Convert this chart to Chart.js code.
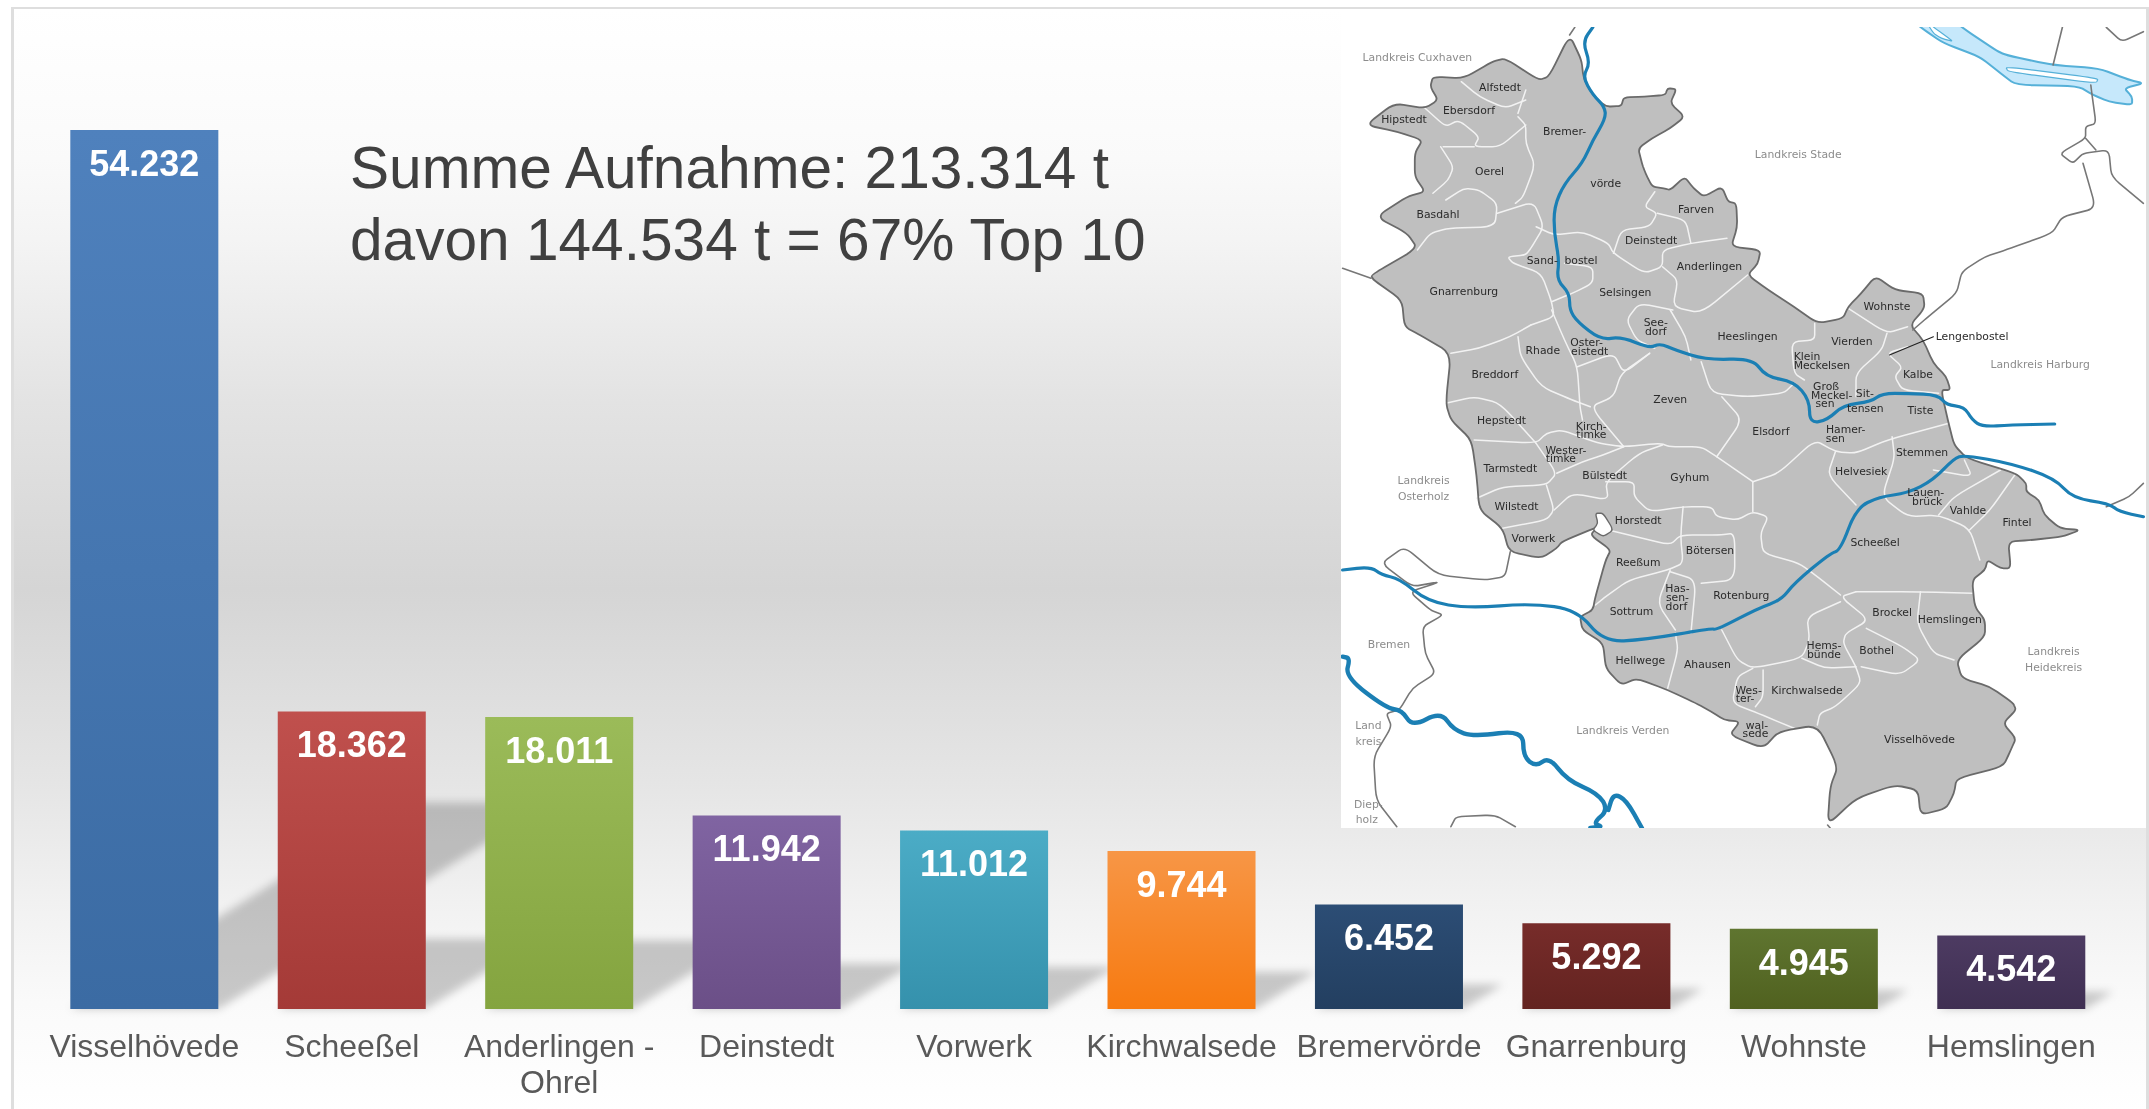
<!DOCTYPE html>
<html>
<head>
<meta charset="utf-8">
<style>
  html, body { margin: 0; padding: 0; background: #fff; width: 2149px; height: 1109px; overflow: hidden; }
  #frame {
    position: absolute; left: 11px; top: 7px; width: 2132px; height: 1102px;
    border: solid #dedede; border-width: 2px 3px 0 3px;
    background: linear-gradient(to bottom, #fff 0px, #fafafa 150px, #f4f4f4 230px, #e3e3e3 393px,
      #d5d5d5 580px, #e5e5e5 773px, #f1f1f1 893px, #fafafa 993px, #fff 1102px);
  }
  #myChart { position: absolute; left: 0; top: 0; }
  #map { position: absolute; left: 0; top: 0; filter: blur(0.45px); }
  #title {
    position: absolute; left: 350px; top: 132px; color: #404040;
    font: 58.6px/72px "Liberation Sans", Arial, sans-serif; white-space: nowrap;
  }
</style>
</head>
<body>
<div id="frame"></div>
<canvas id="myChart" width="2149" height="1109"></canvas>
<svg id="map" width="2149" height="1109" xmlns="http://www.w3.org/2000/svg"></svg>
<div id="title">Summe Aufnahme: 213.314 t<br>davon 144.534 t = 67% Top 10</div>

<script src="https://cdn.jsdelivr.net/npm/chart.js@4"></script>
<script>
const categories = ["Visselhövede", "Scheeßel", ["Anderlingen -", "Ohrel"], "Deinstedt", "Vorwerk",
  "Kirchwalsede", "Bremervörde", "Gnarrenburg", "Wohnste", "Hemslingen"];
const values = [54232, 18362, 18011, 11942, 11012, 9744, 6452, 5292, 4945, 4542];
const topColors = ["#4f81bd", "#c0504d", "#9bbb59", "#8064a2", "#4bacc6", "#f79646", "#2c4d75", "#772c2a", "#5f7530", "#4d3b62"];
const bottomColors = ["#3b6ba3", "#a43a37", "#84a43f", "#6b4f87", "#3591ac", "#f77a10", "#233f60", "#632320", "#50611f", "#3f2f52"];

// map, in crop coordinates
const toX = x => 1340 + x / 1.938;
const toY = y => y / 3;

const outline = [[445,105],[468,180],[472,235],[490,285],[515,320],[545,318],[550,292],[590,290],[630,285],[635,265],[652,267],[640,310],[668,350],[640,385],[605,415],[578,445],[585,490],[592,520],[605,560],[628,565],[640,570],[668,530],[685,565],[705,590],[740,560],[752,605],[768,610],[770,680],[758,740],[815,750],[810,790],[790,825],[830,870],[880,920],[925,970],[975,955],[985,920],[1010,880],[1038,828],[1075,870],[1130,880],[1133,925],[1105,975],[1130,1020],[1150,1090],[1175,1130],[1183,1170],[1165,1170],[1178,1260],[1190,1335],[1215,1375],[1310,1420],[1330,1450],[1330,1475],[1355,1500],[1365,1545],[1395,1585],[1435,1590],[1400,1610],[1340,1620],[1295,1625],[1300,1705],[1280,1705],[1255,1680],[1250,1710],[1225,1740],[1230,1820],[1250,1860],[1250,1910],[1195,1980],[1205,2035],[1260,2060],[1305,2110],[1310,2130],[1285,2170],[1310,2215],[1300,2250],[1285,2300],[1195,2335],[1190,2380],[1175,2425],[1125,2445],[1120,2370],[1075,2355],[1000,2395],[945,2475],[950,2360],[965,2300],[925,2175],[850,2195],[820,2245],[755,2205],[775,2165],[745,2160],[720,2135],[690,2110],[635,2070],[575,2035],[545,2055],[515,2005],[510,1930],[470,1890],[465,1850],[490,1830],[495,1790],[515,1680],[525,1650],[485,1605],[500,1580],[430,1625],[420,1645],[390,1675],[328,1655],[315,1585],[270,1530],[265,1430],[255,1320],[215,1260],[205,1210],[215,1060],[155,1005],[125,980],[120,900],[65,840],[60,825],[150,745],[130,700],[70,650],[130,590],[165,575],[145,530],[145,460],[160,420],[110,395],[50,375],[105,310],[165,325],[190,300],[175,260],[180,230],[240,235],[295,185],[320,175],[385,240],[405,230]];

const boundaries = [
  [[235,245],[270,290],[320,325],[360,300]],
  [[165,325],[205,380],[230,360],[270,410],[260,440],[310,440],[360,375]],
  [[345,350],[360,375],[360,430],[378,495],[355,590],[340,610]],
  [[360,270],[345,340]],
  [[195,440],[220,500],[210,540],[180,580]],
  [[260,440],[200,440]],
  [[205,600],[240,565],[270,570],[305,610],[300,680],[210,685],[175,700],[150,750]],
  [[305,640],[375,605],[395,680],[372,740],[360,765],[325,770],[335,790],[390,820],[410,905],[415,950],[370,975]],
  [[380,680],[415,705],[470,695],[520,730],[530,760],[590,820],[625,800],[625,750],[680,730],[750,715]],
  [[530,760],[545,690],[600,680],[615,640],[590,620],[610,575]],
  [[615,640],[670,660],[680,730]],
  [[625,800],[655,840],[645,920],[700,940],[790,825]],
  [[435,790],[490,800],[490,850],[450,880],[410,905]],
  [[645,930],[580,910],[555,960],[575,1020],[610,1045]],
  [[640,930],[670,1010],[680,1080]],
  [[370,975],[330,1010],[270,1045],[215,1060]],
  [[345,1010],[350,1070],[390,1160],[450,1200],[485,1220]],
  [[410,930],[435,1020],[460,1100],[465,1220],[470,1260]],
  [[460,1100],[530,1060],[550,1120],[600,1060]],
  [[600,1060],[545,1120],[530,1190],[485,1220],[550,1340]],
  [[700,1085],[720,1180],[790,1190],[860,1180],[880,1150]],
  [[920,970],[920,1020],[875,1025],[880,1120],[900,1140]],
  [[985,925],[1060,1000],[1100,980]],
  [[1060,1000],[1050,1050],[1000,1120],[1000,1190]],
  [[1100,1040],[1060,1060],[1090,1100],[1075,1130],[1090,1170],[1160,1180]],
  [[205,1210],[260,1190],[310,1210],[380,1330]],
  [[260,1320],[380,1330],[400,1300],[430,1290],[500,1330],[550,1340],[620,1330],[640,1340],[700,1340],[730,1370],[800,1445]],
  [[380,1330],[420,1420],[400,1455],[315,1460],[265,1495]],
  [[400,1455],[415,1530],[400,1560],[315,1585]],
  [[420,1420],[470,1385],[510,1365],[550,1340]],
  [[415,1530],[450,1480],[520,1500],[515,1445],[580,1360],[625,1335]],
  [[515,1445],[570,1445],[570,1490],[600,1535],[665,1520],[720,1520],[730,1550],[770,1560],[800,1535],[830,1550],[815,1600],[820,1660],[890,1690],[925,1730],[970,1785]],
  [[800,1445],[800,1535]],
  [[800,1445],[850,1420],[920,1320],[960,1355],[1000,1360],[1060,1320],[1180,1270]],
  [[730,1370],[780,1260],[740,1190]],
  [[960,1355],[945,1425],[1000,1515]],
  [[1070,1310],[1075,1375],[1050,1490],[1100,1550],[1160,1545],[1220,1585],[1240,1680]],
  [[1210,1380],[1225,1430],[1150,1410]],
  [[1280,1410],[1190,1490],[1160,1545]],
  [[1310,1420],[1260,1530],[1220,1590]],
  [[520,1590],[560,1605],[640,1635],[660,1605],[735,1605],[765,1600],[765,1740],[700,1750]],
  [[665,1520],[660,1610],[665,1690],[635,1710],[560,1740],[515,1790],[495,1815]],
  [[640,1710],[615,1810],[650,1890]],
  [[640,1715],[690,1740],[680,1900]],
  [[1000,1775],[970,1790],[1025,1860],[980,1900],[975,1930],[1000,2000],[1010,2050],[960,2120],[930,2140],[925,2175]],
  [[1000,1775],[1125,1775],[1225,1780]],
  [[1125,1775],[1118,1870],[1150,1960],[1190,1980]],
  [[1020,1885],[1090,1940],[1125,1980],[1085,2025],[1010,2000]],
  [[970,1805],[905,1850],[910,1920],[895,1975],[800,2005],[770,1980],[740,1890]],
  [[895,1975],[940,2005],[1000,2000]],
  [[650,1900],[655,1950],[635,2065]],
  [[800,2005],[770,2030],[760,2110],[810,2140],[880,2185]],
  [[820,2010],[820,2090],[805,2120]]
];

const borders = [
  [[445,105],[455,82]],
  [[1400,82],[1382,195]],
  [[1485,82],[1515,125],[1557,95]],
  [[1455,255],[1458,290],[1465,370],[1445,380],[1445,415],[1395,460],[1420,490],[1440,460],[1490,450],[1495,530],[1557,610]],
  [[1445,415],[1465,450]],
  [[1440,490],[1465,625],[1400,650],[1380,700],[1290,750],[1250,770],[1205,815],[1195,880],[1140,950],[1110,990]],
  [[5,805],[60,835]],
  [[330,1655],[320,1730],[280,1740],[190,1725],[125,1640],[80,1690],[140,1760],[195,1745],[135,1775],[175,1830],[200,1845],[160,1880],[165,1960],[185,2020],[140,2065],[115,2130],[90,2140],[100,2180],[65,2270],[70,2400],[110,2480]],
  [[215,2480],[225,2450],[300,2445],[340,2480]],
  [[945,2475],[950,2484]],
  [[1485,1520],[1530,1490],[1557,1450]]
];

const rivers = [
  [[490,82],[470,125],[485,190],[470,230],[490,285],[513,320],[515,355],[490,420],[470,490],[435,550],[415,620],[415,700],[425,780],[420,840],[445,880],[445,930],[460,965],[505,1020],[545,1010],[600,1045],[620,1030],[650,1050],[710,1080],[800,1075],[825,1130],[880,1145],[910,1200],[910,1270],[945,1260],[975,1215],[1030,1205],[1050,1180],[1100,1180],[1160,1185],[1175,1215],[1210,1220],[1225,1260],[1245,1280],[1300,1275],[1385,1272]],
  [[5,1710],[60,1700],[80,1725],[115,1735],[170,1805],[250,1825],[370,1810],[460,1830],[510,1925],[590,1920],[720,1885],[730,1890],[810,1825],[855,1800],[880,1750],[950,1660],[970,1650],[1000,1525],[1045,1490],[1100,1480],[1150,1440],[1190,1375],[1210,1365],[1300,1390],[1385,1435],[1420,1495],[1490,1510],[1510,1535],[1557,1550]],
  [[5,1970],[20,1975],[10,2030],[90,2125],[120,2130],[140,2180],[195,2135],[220,2190],[260,2210],[355,2190],[355,2270],[380,2300],[405,2270],[440,2340],[500,2380],[520,2430],[490,2470],[510,2480],[485,2484]],
  [[520,2430],[530,2380],[555,2400],[585,2484]]
];

// the Elbe runs past the top of the image and is cut off there
const elbe = [[1085,30],[1165,30],[1205,82],[1270,150],[1290,165],[1380,195],[1470,205],[1530,240],[1557,250],[1520,265],[1535,290],[1535,315],[1490,305],[1460,285],[1430,258],[1310,255],[1280,220],[1240,170],[1170,130],[1125,82]];
const elbeIslands = [[[1290,200],[1470,235],[1465,250],[1295,215]], [[1130,50],[1150,82],[1190,125],[1165,115],[1150,100]]];
const lake = [[495,1540],[510,1540],[530,1590],[510,1610],[490,1590],[500,1570]];

const mapLabels = [["Alfstedt",310,263],["Ebersdorf",250,330],["Hipstedt",124,358],["Bremer-",435,395],["Oerel",290,514],["vörde",515,550],["Basdahl",190,642],["Farven",690,627],["Deinstedt",603,720],["Sand-",392,782],["bostel",467,782],["Anderlingen",716,800],["Gnarrenburg",240,875],["Selsingen",553,877],["Wohnste",1060,918],["See-",612,968],["dorf",612,995],["Heeslingen",790,1010],["Vierden",992,1023],["Oster-",478,1028],["eistedt",484,1055],["Rhade",393,1052],["Klein",905,1070],["Meckelsen",934,1097],["Kalbe",1120,1122],["Breddorf",300,1122],["Groß",942,1160],["Meckel-",953,1185],["sen",940,1210],["Sit-",1017,1180],["tensen",1018,1225],["Tiste",1125,1230],["Zeven",640,1197],["Lengenbostel",1225,1010],["Hepstedt",313,1262],["Kirch-",487,1278],["timke",487,1302],["Elsdorf",835,1295],["Hamer-",980,1288],["sen",960,1315],["Wester-",438,1350],["timke",428,1375],["Stemmen",1128,1358],["Tarmstedt",330,1405],["Bülstedt",513,1425],["Gyhum",678,1431],["Helvesiek",1010,1415],["Lauen-",1135,1478],["brück",1138,1503],["Vahlde",1217,1531],["Wilstedt",342,1520],["Horstedt",578,1561],["Fintel",1312,1568],["Vorwerk",375,1615],["Scheeßel",1037,1627],["Bötersen",717,1651],["Reeßum",578,1688],["Has-",654,1766],["sen-",654,1792],["dorf",652,1818],["Rotenburg",778,1786],["Sottrum",565,1834],["Brockel",1070,1836],["Hemslingen",1182,1858],["Hems-",938,1936],["bünde",938,1962],["Bothel",1040,1951],["Hellwege",582,1980],["Ahausen",712,1993],["Wes-",792,2070],["ter-",785,2096],["Kirchwalsede",905,2070],["wal-",808,2175],["sede",805,2200],["Visselhövede",1123,2217]];
const regionLabels = [["Landkreis Cuxhaven",150,173],["Landkreis Stade",888,462],["Landkreis Harburg",1357,1094],["Landkreis",162,1442],["Osterholz",162,1490],["Landkreis",1383,1955],["Heidekreis",1383,2003],["Bremen",95,1934],["Land",55,2177],["kreis",55,2224],["Landkreis Verden",548,2192],["Diep-",55,2412],["holz",52,2458]];

const xy = p => toX(p[0]).toFixed(1) + " " + toY(p[1]).toFixed(1);
const toward = (a, b, t) => [a[0] + (b[0] - a[0]) * t, a[1] + (b[1] - a[1]) * t];

// rounds the traced corners, t is how far along each segment the curve starts
function smooth(line, closed, t) {
  const n = line.length;
  let d = "";
  line.forEach((p, i) => {
    const isEnd = !closed && (i === 0 || i === n - 1);
    if (isEnd) { d += (i === 0 ? "M" : "L") + xy(p); return; }
    const a = toward(p, line[(i - 1 + n) % n], t);
    const b = toward(p, line[(i + 1) % n], t);
    d += (d === "" ? "M" : "L") + xy(a) + "Q" + xy(p) + " " + xy(b);
  });
  return d + (closed ? "Z" : "");
}

function drawMap() {
  const path = (d, attrs) => '<path d="' + d + '" stroke-linejoin="round" stroke-linecap="round" ' + attrs + '/>';
  let s = '<defs><clipPath id="mapClip"><rect x="1341" y="27" width="805" height="801"/></clipPath></defs>';
  s += '<rect x="1341" y="9" width="805" height="819" fill="#fff"/>';
  s += '<g clip-path="url(#mapClip)">';
  s += path(smooth(elbe, true, 0.3), 'fill="#c6e8fb" stroke="#55b0d8" stroke-width="2"');
  elbeIslands.forEach(l => { s += path(smooth(l, true, 0.3), 'fill="#fff" stroke="#55b0d8" stroke-width="1.2"'); });
  s += path(smooth(outline, true, 0.3), 'fill="#bfbfbf"');
  boundaries.forEach(l => { s += path(smooth(l, false, 0.3), 'fill="none" stroke="#f2f2f2" stroke-width="1.5"'); });
  s += path(smooth(outline, true, 0.3), 'fill="none" stroke="#6a6a6a" stroke-width="1.8"');
  s += path(smooth(lake, true, 0.3), 'fill="#fff" stroke="#6a6a6a" stroke-width="1.4"');
  borders.forEach(l => { s += path(smooth(l, false, 0.25), 'fill="none" stroke="#777" stroke-width="1.6"'); });
  rivers.forEach((l, i) => { s += path(smooth(l, false, 0.5), 'fill="none" stroke="#1b7fb4" stroke-width="' + (i < 2 ? 3.2 : 4.4) + '"'); });
  s += path(smooth([[1065,1065],[1150,1010]], false, 0), 'fill="none" stroke="#222" stroke-width="1.1"');
  s += '</g>';
  const label = (t, color) => '<text x="' + toX(t[1]).toFixed(1) + '" y="' + toY(t[2]).toFixed(1) +
    '" fill="' + color + '" font-family="DejaVu Sans" font-size="10.8" text-anchor="middle" dominant-baseline="central">' + t[0] + '</text>';
  mapLabels.forEach(t => { s += label(t, "#2a2a2a"); });
  regionLabels.forEach(t => { s += label(t, "#8c8c8c"); });
  document.getElementById("map").innerHTML = s;
}
drawMap();

// slanted soft shadow behind each bar, taken from the bar's own position
const barShadows = {
  id: "barShadows",
  beforeDatasetsDraw(chart) {
    const c = chart.ctx;
    c.save();
    c.filter = "blur(4px)";
    c.fillStyle = "rgba(0,0,0,0.2)";
    chart.getDatasetMeta(0).data.forEach(bar => {
      const left = bar.x - bar.width / 2;
      const right = bar.x + bar.width / 2;
      const h = (bar.base - bar.y) * 0.235;
      const dx = h / 0.62;
      c.beginPath();
      c.moveTo(left, bar.base);
      c.lineTo(right, bar.base);
      c.lineTo(right + dx, bar.base - h);
      c.lineTo(left + dx, bar.base - h);
      c.closePath();
      c.fill();
    });
    c.restore();
  },
};

// value inside the top of each bar
const barValues = {
  id: "barValues",
  afterDatasetsDraw(chart) {
    const c = chart.ctx;
    c.save();
    c.fillStyle = "#fff";
    c.font = 'bold 36px "Liberation Sans", Arial, sans-serif';
    c.textAlign = "center";
    c.textBaseline = "middle";
    chart.getDatasetMeta(0).data.forEach((bar, i) => {
      c.fillText(values[i].toLocaleString("de-DE"), bar.x, bar.y + 36);
    });
    c.restore();
  },
};

const ctx = document.getElementById("myChart");
new Chart(ctx, {
  type: "bar",
  data: {
    labels: categories,
    datasets: [{
      data: values,
      categoryPercentage: 1,
      barPercentage: 0.7136,
      backgroundColor: (context) => {
        const { chart, dataIndex } = context;
        if (!chart.chartArea) return topColors[dataIndex];
        const y = chart.scales.y;
        const g = chart.ctx.createLinearGradient(0, y.getPixelForValue(values[dataIndex]), 0, y.getPixelForValue(0));
        g.addColorStop(0, topColors[dataIndex]);
        g.addColorStop(1, bottomColors[dataIndex]);
        return g;
      },
    }],
  },
  plugins: [barShadows, barValues],
  options: {
    responsive: false,
    animation: false,
    layout: { padding: { left: 40.6, right: 34, top: 36.5, bottom: 0 } },
    plugins: { legend: { display: false }, tooltip: { enabled: false } },
    scales: {
      x: {
        grid: { display: false },
        border: { display: false },
        afterFit: (scale) => { scale.height = 100; },
        ticks: {
          autoSkip: false,
          maxRotation: 0,
          minRotation: 0,
          padding: 13,
          color: "#595959",
          font: { family: '"Liberation Sans", Arial, sans-serif', size: 32, lineHeight: 1.13 },
        },
      },
      y: { display: false, min: 0, max: 60000 },
    },
  },
});
</script>
</body>
</html>
